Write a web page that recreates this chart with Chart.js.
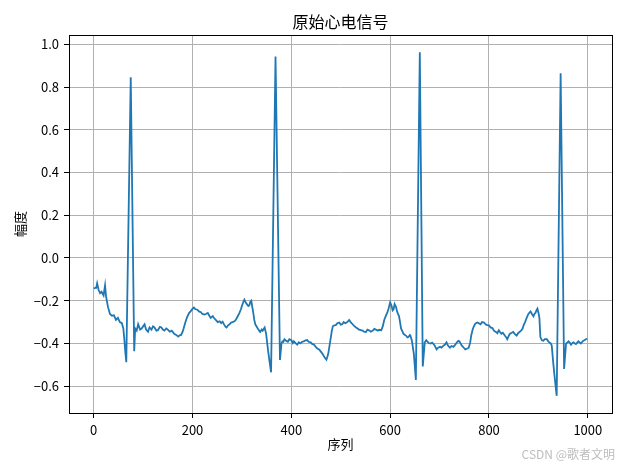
<!DOCTYPE html>
<html>
<head>
<meta charset="utf-8">
<title>原始心电信号</title>
<script src="https://cdn.jsdelivr.net/npm/chart.js@4.4.0/dist/chart.umd.min.js"></script>
<style>
  body { margin: 0; background: #fff; }
  canvas { display: block; }
</style>
</head>
<body>
<canvas id="ecgCanvas" width="621" height="466"></canvas>
<script>
// sample index and amplitude
let sampleIdx = [
    0, 3, 5, 7, 10, 13, 16, 20, 23, 25, 29, 33, 37, 41, 45, 49, 53, 57, 60, 62, 64, 66,
    75, 82, 84, 87, 90, 94, 97, 100, 103, 106, 110, 113, 117, 120, 123, 127, 130, 134,
    137, 140, 143, 147, 150, 154, 158, 163, 167, 171, 174, 177, 180, 182, 185, 187, 190,
    193, 196, 200, 203, 206, 210, 213, 217, 220, 224, 227, 231, 234, 237, 241, 244, 248,
    251, 255, 258, 261, 264, 267, 269, 272, 275, 278, 281, 285, 288, 291, 295, 298, 300,
    303, 305, 308, 310, 313, 315, 317, 319, 321, 323, 325, 327, 330, 332, 335, 337, 340,
    342, 344, 346, 349, 353, 359, 368, 377, 380, 382, 384, 386, 390, 393, 396, 400, 403,
    405, 409, 412, 415, 418, 422, 425, 429, 432, 435, 439, 442, 446, 449, 452, 456, 459,
    462, 466, 469, 471, 473, 475, 478, 480, 482, 484, 487, 490, 493, 497, 500, 503, 506,
    509, 512, 515, 517, 520, 524, 527, 531, 534, 537, 541, 544, 547, 551, 554, 558, 561,
    565, 568, 571, 575, 578, 582, 585, 588, 591, 594, 597, 600, 603, 605, 607, 609, 612,
    614, 616, 618, 620, 622, 625, 627, 630, 632, 635, 637, 640, 641, 644, 648, 652, 660,
    666, 670, 673, 675, 678, 682, 685, 689, 692, 694, 697, 701, 704, 708, 711, 714, 717,
    721, 724, 728, 731, 735, 738, 740, 743, 745, 749, 752, 755, 759, 762, 764, 767, 769,
    772, 776, 779, 783, 786, 790, 793, 796, 800, 803, 807, 810, 814, 817, 820, 822, 825,
    828, 832, 835, 837, 840, 842, 846, 849, 852, 856, 859, 862, 865, 868, 870, 873, 876,
    879, 882, 884, 887, 890, 892, 894, 896, 898, 900, 902, 904, 907, 910, 913, 917, 920,
    922, 925, 927, 930, 933, 937, 945, 952, 956, 959, 961, 964, 966, 969, 971, 974, 976,
    979, 981, 984, 986, 989, 991, 994, 996, 999
];
let amplitude = [
    -0.143, -0.140, -0.140, -0.118, -0.150, -0.165, -0.158, -0.175, -0.128, -0.180, -0.230,
    -0.262, -0.270, -0.268, -0.290, -0.280, -0.300, -0.305, -0.330, -0.380, -0.440, -0.488,
    0.846, -0.436, -0.330, -0.340, -0.310, -0.335, -0.330, -0.320, -0.310, -0.335, -0.345,
    -0.325, -0.335, -0.320, -0.325, -0.340, -0.338, -0.322, -0.325, -0.335, -0.340, -0.330,
    -0.335, -0.345, -0.340, -0.355, -0.360, -0.368, -0.362, -0.360, -0.345, -0.330, -0.305,
    -0.290, -0.272, -0.258, -0.250, -0.238, -0.232, -0.240, -0.242, -0.250, -0.254, -0.262,
    -0.265, -0.262, -0.257, -0.270, -0.280, -0.272, -0.282, -0.292, -0.300, -0.296, -0.305,
    -0.298, -0.312, -0.322, -0.325, -0.315, -0.310, -0.302, -0.300, -0.296, -0.288, -0.275,
    -0.257, -0.240, -0.225, -0.205, -0.195, -0.210, -0.216, -0.225, -0.222, -0.205, -0.200,
    -0.230, -0.257, -0.290, -0.310, -0.322, -0.330, -0.340, -0.346, -0.335, -0.340, -0.332,
    -0.325, -0.355, -0.435, -0.535, 0.943, -0.477, -0.400, -0.390, -0.392, -0.380, -0.388,
    -0.392, -0.380, -0.385, -0.398, -0.390, -0.400, -0.406, -0.395, -0.400, -0.392, -0.390,
    -0.385, -0.384, -0.392, -0.395, -0.402, -0.406, -0.415, -0.423, -0.428, -0.436, -0.445,
    -0.460, -0.470, -0.476, -0.462, -0.444, -0.400, -0.370, -0.340, -0.320, -0.315, -0.314,
    -0.305, -0.302, -0.312, -0.310, -0.300, -0.305, -0.302, -0.296, -0.290, -0.300, -0.310,
    -0.318, -0.325, -0.330, -0.335, -0.338, -0.340, -0.345, -0.346, -0.335, -0.340, -0.345,
    -0.340, -0.332, -0.335, -0.340, -0.336, -0.338, -0.320, -0.290, -0.272, -0.257, -0.235,
    -0.208, -0.225, -0.245, -0.240, -0.216, -0.230, -0.250, -0.262, -0.273, -0.300, -0.330,
    -0.345, -0.355, -0.360, -0.363, -0.372, -0.370, -0.360, -0.363, -0.387, -0.450, -0.571,
    0.963, -0.508, -0.395, -0.385, -0.390, -0.398, -0.400, -0.396, -0.406, -0.418, -0.428,
    -0.420, -0.416, -0.420, -0.410, -0.405, -0.395, -0.410, -0.420, -0.412, -0.416, -0.408,
    -0.395, -0.388, -0.390, -0.402, -0.410, -0.420, -0.428, -0.425, -0.420, -0.395, -0.363,
    -0.335, -0.322, -0.308, -0.302, -0.305, -0.310, -0.300, -0.302, -0.310, -0.314, -0.315,
    -0.325, -0.328, -0.340, -0.346, -0.352, -0.338, -0.345, -0.355, -0.350, -0.363, -0.372,
    -0.380, -0.365, -0.355, -0.350, -0.346, -0.355, -0.363, -0.352, -0.346, -0.340, -0.330,
    -0.315, -0.300, -0.282, -0.265, -0.255, -0.250, -0.262, -0.273, -0.262, -0.257, -0.245,
    -0.237, -0.255, -0.280, -0.370, -0.385, -0.387, -0.380, -0.380, -0.390, -0.395, -0.400,
    -0.410, -0.490, -0.560, -0.645, 0.864, -0.519, -0.400, -0.395, -0.390, -0.398, -0.406,
    -0.398, -0.395, -0.400, -0.403, -0.395, -0.390, -0.396, -0.400, -0.392, -0.387, -0.384,
    -0.380, -0.378
];
let xTicks = [0, 200, 400, 600, 800, 1000];
let yTicks = [-0.6, -0.4, -0.2, 0.0, 0.2, 0.4, 0.6, 0.8, 1.0];

let points = sampleIdx.map(function (x, i) { return { x: x, y: amplitude[i] }; });

// matplotlib style 5% margins
let xLo = Math.min.apply(null, sampleIdx), xHi = Math.max.apply(null, sampleIdx);
let yLo = Math.min.apply(null, amplitude), yHi = Math.max.apply(null, amplitude);
let xPad = (xHi - xLo) * 0.05, yPad = (yHi - yLo) * 0.05;

let tickFont = { family: '"Noto Sans CJK SC", sans-serif', size: 13 };
let labelFont = { family: '"Noto Sans CJK SC", sans-serif', size: 13 };

// title over the plot area, top/right spines, watermark
let framePlugin = {
    id: 'frame',
    afterDraw: function (chart) {
        let ctx = chart.ctx, a = chart.chartArea;
        let l = Math.round(a.left) + 0.5, t = Math.round(a.top) + 0.5;
        let r = Math.round(a.right) + 0.5, b = Math.round(a.bottom) + 0.5;
        ctx.save();
        ctx.strokeStyle = '#000';
        ctx.lineWidth = 1;
        ctx.strokeRect(l, t, r - l, b - t);

        ctx.fillStyle = '#000';
        ctx.font = '16px "Noto Sans CJK SC"';
        ctx.textAlign = 'center';
        ctx.textBaseline = 'middle';
        ctx.fillText('原始心电信号', (a.left + a.right) / 2, 22);

        ctx.fillStyle = '#bdbdbd';
        ctx.font = '12px "Noto Sans CJK SC"';
        ctx.textAlign = 'right';
        ctx.fillText('CSDN @歌者文明', 615, 454);
        ctx.restore();
    }
};

new Chart(document.getElementById('ecgCanvas'), {
    type: 'line',
    data: {
        datasets: [{
            data: points,
            borderColor: '#1f77b4',
            borderWidth: 1.8,
            pointRadius: 0,
            tension: 0,
            fill: false
        }]
    },
    options: {
        responsive: false,
        animation: false,
        events: [],
        layout: { padding: { top: 35, right: 9, bottom: 0, left: 0 } },
        plugins: {
            legend: { display: false },
            tooltip: { enabled: false },
            title: { display: false }
        },
        scales: {
            x: {
                type: 'linear',
                min: xLo - xPad,
                max: xHi + xPad,
                afterBuildTicks: function (s) { s.ticks = xTicks.map(function (v) { return { value: v }; }); },
                afterFit: function (s) { s.height = 53; },
                grid: { color: '#b0b0b0', lineWidth: 1, tickColor: '#000', tickLength: 5 },
                border: { display: false },
                ticks: { color: '#000', font: tickFont, padding: 4, maxRotation: 0, autoSkip: false,
                    callback: function (v) { return String(v); } },
                title: { display: true, text: '序列', color: '#000', font: labelFont,
                    padding: { top: 0, bottom: 14 } }
            },
            y: {
                min: yLo - yPad,
                max: yHi + yPad,
                afterBuildTicks: function (s) { s.ticks = yTicks.map(function (v) { return { value: v }; }); },
                afterFit: function (s) { s.width = 69; },
                grid: { color: '#b0b0b0', lineWidth: 1, tickColor: '#000', tickLength: 5 },
                border: { display: false },
                ticks: { color: '#000', font: tickFont, padding: 5, autoSkip: false,
                    callback: function (v) { return v.toFixed(1).replace('-', '\u2212'); } },
                title: { display: true, text: '幅度', color: '#000', font: labelFont,
                    padding: { top: 12, bottom: 0 } }
            }
        }
    },
    plugins: [framePlugin]
});
</script>
</body>
</html>
